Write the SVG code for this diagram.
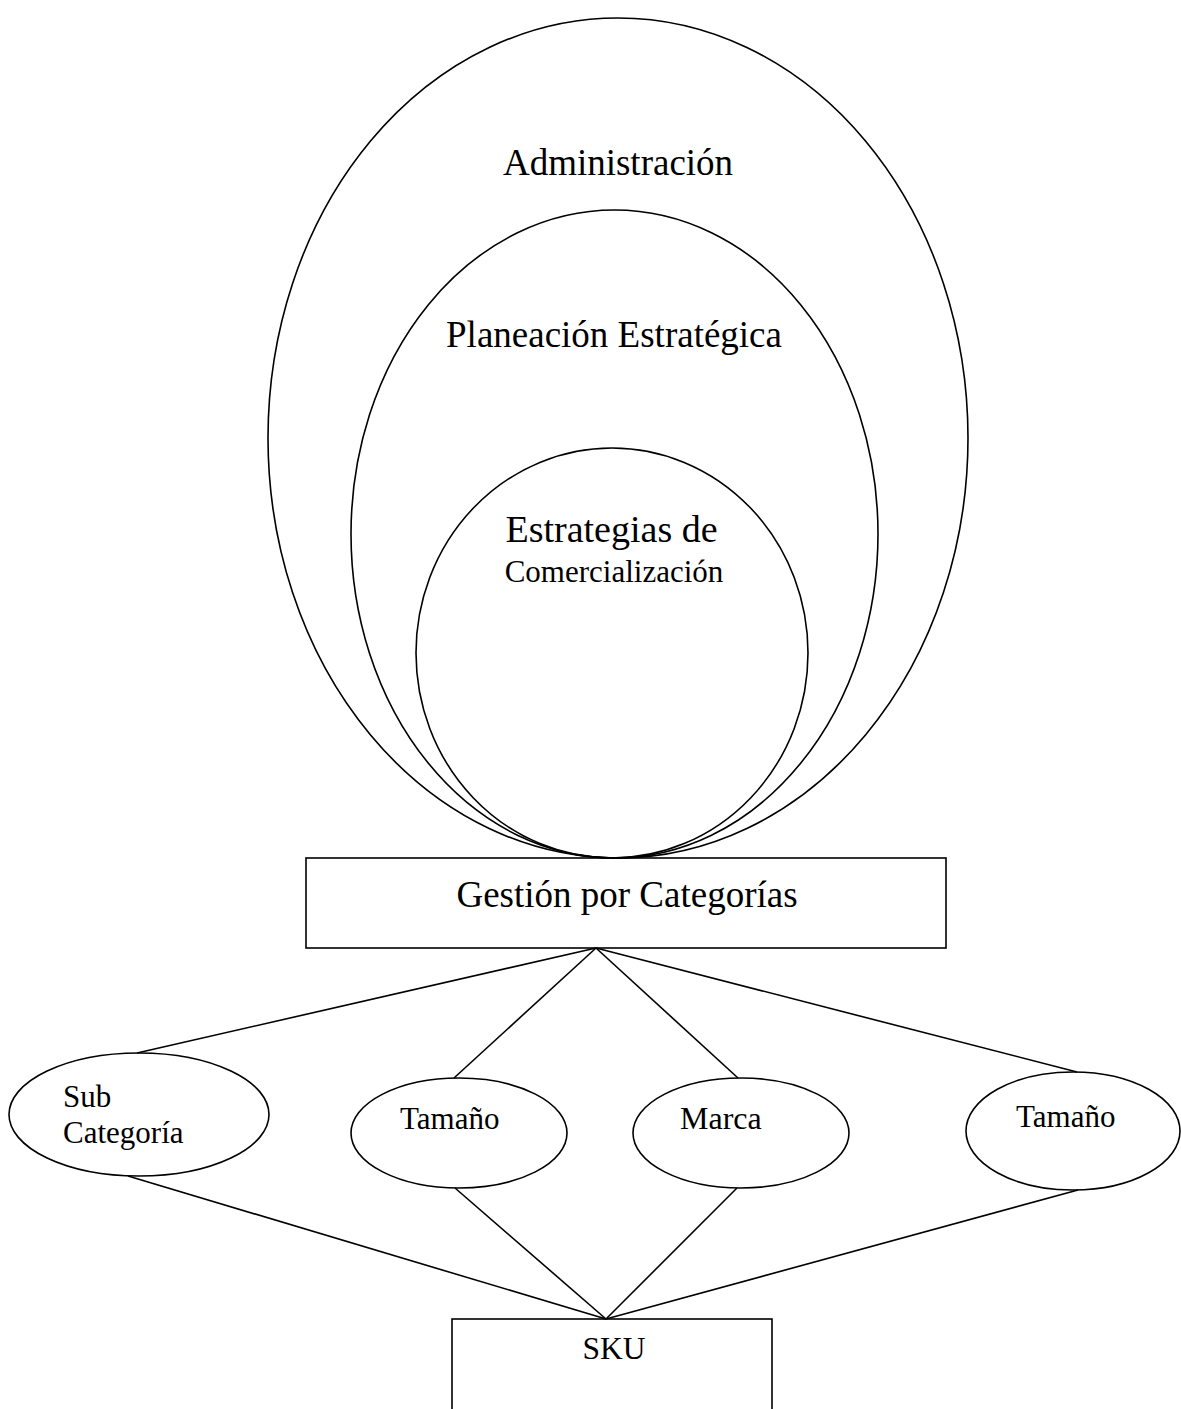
<svg xmlns="http://www.w3.org/2000/svg" width="1181" height="1409" viewBox="0 0 1181 1409">
<style>
.s{fill:none;stroke:#000;stroke-width:1.6}
.t{font-family:"Liberation Serif","Times New Roman",serif;fill:#000}
.c{text-anchor:middle}
</style>
<rect x="0" y="0" width="1181" height="1409" fill="#fff"/>
<g id="administracion">
<ellipse class="s" cx="618" cy="438" rx="350" ry="420"/>
<text class="t c" x="618" y="175" font-size="37">Administración</text>
</g>
<g id="planeacion">
<ellipse class="s" cx="614.5" cy="534" rx="263.5" ry="324"/>
<text class="t c" x="614" y="347" font-size="37">Planeación Estratégica</text>
</g>
<g id="estrategias">
<ellipse class="s" cx="612" cy="653" rx="196" ry="205"/>
<text class="t c" x="611.5" y="542" font-size="38">Estrategias de</text>
<text class="t c" x="614" y="582" font-size="31">Comercialización</text>
</g>
<g id="gestion">
<rect class="s" x="306" y="858" width="640" height="90"/>
<text class="t c" x="627" y="907" font-size="37">Gestión por Categorías</text>
</g>
<g id="connectors" class="s">
<line x1="596" y1="948" x2="137" y2="1053"/>
<line x1="596" y1="948" x2="454" y2="1078"/>
<line x1="596" y1="948" x2="738" y2="1078"/>
<line x1="596" y1="948" x2="1077" y2="1072"/>
<line x1="128" y1="1176" x2="606" y2="1319"/>
<line x1="455" y1="1188" x2="606" y2="1319"/>
<line x1="737" y1="1188" x2="606" y2="1319"/>
<line x1="1078" y1="1190" x2="606" y2="1319"/>
</g>
<g id="subcategoria">
<ellipse class="s" cx="139" cy="1114.5" rx="130" ry="61.5"/>
<text class="t" x="63" y="1107" font-size="31">Sub</text>
<text class="t" x="63" y="1143" font-size="31">Categoría</text>
</g>
<g id="tamano1">
<ellipse class="s" cx="459" cy="1133" rx="108" ry="55"/>
<text class="t" x="400" y="1129" font-size="31">Tamaño</text>
</g>
<g id="marca">
<ellipse class="s" cx="741" cy="1133" rx="108" ry="55"/>
<text class="t" x="680" y="1129" font-size="32">Marca</text>
</g>
<g id="tamano2">
<ellipse class="s" cx="1073" cy="1131" rx="107" ry="59"/>
<text class="t" x="1016" y="1127" font-size="31">Tamaño</text>
</g>
<g id="sku">
<rect class="s" x="452" y="1319" width="320" height="120"/>
<text class="t c" x="614" y="1359" font-size="31.5">SKU</text>
</g>
</svg>
